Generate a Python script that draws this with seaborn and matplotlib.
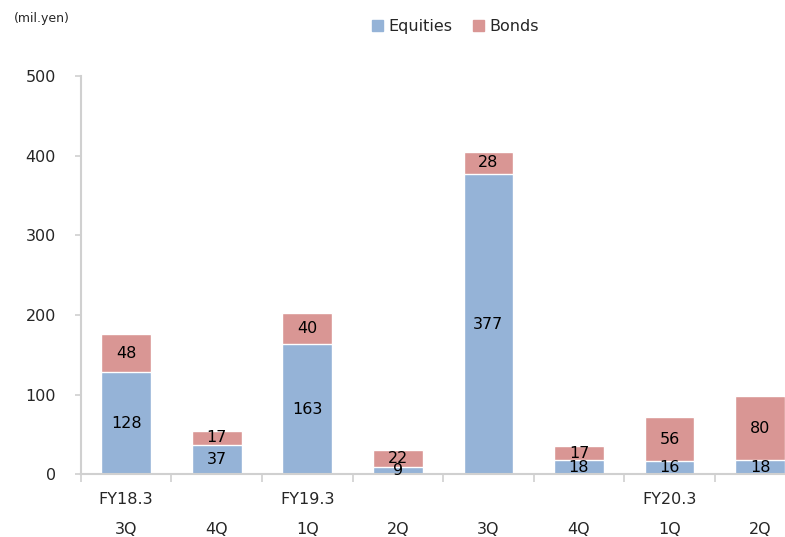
import matplotlib
matplotlib.use("Agg")
import matplotlib.pyplot as plt
import matplotlib.transforms as mtransforms
from matplotlib.patches import Patch
import pandas as pd
import seaborn as sns

# data
periods = ["FY18.3 3Q", "FY18.3 4Q", "FY19.3 1Q", "FY19.3 2Q",
           "FY19.3 3Q", "FY19.3 4Q", "FY20.3 1Q", "FY20.3 2Q"]
fy_labels = ["FY18.3", "", "FY19.3", "", "", "", "FY20.3", ""]
q_labels = ["3Q", "4Q", "1Q", "2Q", "3Q", "4Q", "1Q", "2Q"]
equities = [128, 37, 163, 9, 377, 18, 16, 18]
bonds = [48, 17, 40, 22, 28, 17, 56, 80]

eq_color = "#95B3D7"
bd_color = "#D99694"
axis_gray = "#D0D0D0"

df = pd.DataFrame({"period": periods, "Equities": equities, "Bonds": bonds})
df["total"] = df["Equities"] + df["Bonds"]

sns.set_style("white")
plt.rcParams["font.family"] = ["DejaVu Sans"]

fig = plt.figure(figsize=(7.85, 5.37), dpi=100)
ax = fig.add_axes([0.103, 0.117, 0.923, 0.741])

# stacked: total in bond colour, equities drawn over it
sns.barplot(data=df, x="period", y="total", order=periods, color=bd_color,
            width=0.55, saturation=1, ax=ax)
sns.barplot(data=df, x="period", y="Equities", order=periods, color=eq_color,
            width=0.55, saturation=1, ax=ax)

for i, (e, b) in enumerate(zip(equities, bonds)):
    ax.text(i, e / 2, str(e), ha="center", va="center", fontsize=11.5, color="black")
    ax.text(i, e + b / 2, str(b), ha="center", va="center", fontsize=11.5, color="black")

ax.set_ylim(0, 500)
ax.set_xlim(-0.5, len(periods) - 0.5)
ax.set_yticks(range(0, 501, 100))
ax.tick_params(axis="y", labelsize=11.5, length=4, width=1.2, color=axis_gray,
               direction="out", pad=14, left=True)

ax.set_xticks(range(len(periods)))
ax.set_xticklabels([])
ax.tick_params(axis="x", which="major", length=0)
ax.set_xticks([i - 0.5 for i in range(len(periods) + 1)], minor=True)
ax.tick_params(axis="x", which="minor", length=6, width=1.2, color=axis_gray,
               direction="out", bottom=True)

trans = mtransforms.blended_transform_factory(ax.transData, ax.transAxes)
for i, (fy, q) in enumerate(zip(fy_labels, q_labels)):
    if fy:
        ax.text(i, -0.063, fy, transform=trans, ha="center", va="center", fontsize=11.5)
    ax.text(i, -0.138, q, transform=trans, ha="center", va="center", fontsize=11.5)

ax.set_xlabel("")
ax.set_ylabel("")
for side in ["top", "right"]:
    ax.spines[side].set_visible(False)
for side in ["left", "bottom"]:
    ax.spines[side].set_color(axis_gray)
    ax.spines[side].set_linewidth(1.5)

fig.text(0.018, 0.965, "(mil.yen)", fontsize=9, ha="left", va="center")

handles = [Patch(color=eq_color, label="Equities"), Patch(color=bd_color, label="Bonds")]
fig.legend(handles=handles, loc="center", bbox_to_anchor=(0.58, 0.951), ncol=2,
           frameon=False, fontsize=11.5, handlelength=0.7, handleheight=0.7,
           handletextpad=0.3, columnspacing=1.3)

fig.savefig("out.png", dpi=100)
